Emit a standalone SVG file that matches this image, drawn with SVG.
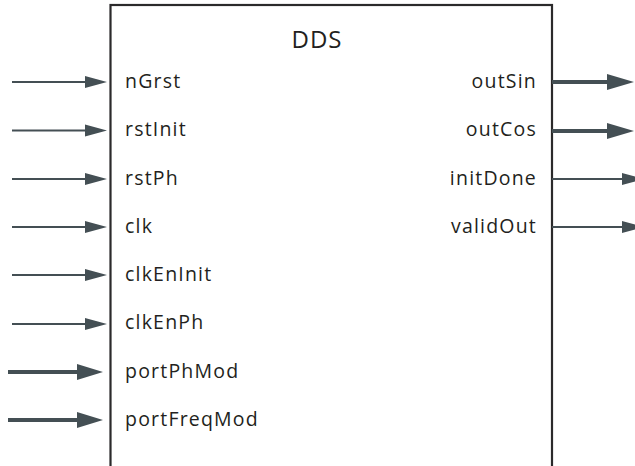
<svg xmlns="http://www.w3.org/2000/svg" width="635" height="466" viewBox="0 0 635 466">
<style>
.lbl{font-family:"Open Sans","Noto Sans",sans-serif;font-size:19.5px;letter-spacing:1.2px;fill:#231f20}
.title{font-family:"Open Sans","Noto Sans",sans-serif;font-size:24px;letter-spacing:1px;fill:#231f20}
.thin{stroke:#444f54;stroke-width:2;fill:none}
.thick{stroke:#444f54;stroke-width:4;fill:none}
.head{fill:#444f54}
</style>
<g id="dds">
<rect x="110.5" y="5" width="441.5" height="480" fill="#fff" stroke="#2b2a2b" stroke-width="2.2"/>
<text class="title" x="317" y="48" text-anchor="middle">DDS</text>
<text class="lbl" x="125" y="88">nGrst</text>
<text class="lbl" x="125" y="136">rstInit</text>
<text class="lbl" x="125" y="185">rstPh</text>
<text class="lbl" x="125" y="233">clk</text>
<text class="lbl" x="125" y="281">clkEnInit</text>
<text class="lbl" x="125" y="329">clkEnPh</text>
<text class="lbl" x="125" y="378">portPhMod</text>
<text class="lbl" x="125" y="426">portFreqMod</text>
<text class="lbl" x="537" y="88" text-anchor="end">outSin</text>
<text class="lbl" x="537" y="136" text-anchor="end">outCos</text>
<text class="lbl" x="537" y="185" text-anchor="end">initDone</text>
<text class="lbl" x="537" y="233" text-anchor="end">validOut</text>
</g>
<g id="connectors">
<path class="thin" d="M12 82H88M12 130.5H88M12 179H88M12 227H88M12 275H88M12 324H88"/>
<path class="head" d="M85 76L107 82L85 88ZM85 124.5L107 130.5L85 136.5ZM85 173L107 179L85 185ZM85 221L107 227L85 233ZM85 269L107 275L85 281ZM85 318L107 324L85 330Z"/>
<path class="thick" d="M8 372H80M8 420H80"/>
<path class="head" d="M77 364L103 372L77 380ZM77 412L103 420L77 428Z"/>
<path class="thick" d="M552 82H610M552 131H610"/>
<path class="head" d="M607 74L634 82L607 90ZM607 123L634 131L607 139Z"/>
<path class="thin" d="M552 179H625M552 227H625"/>
<path class="head" d="M622 173L644 179L622 185ZM622 221L644 227L622 233Z"/>
</g>
</svg>
